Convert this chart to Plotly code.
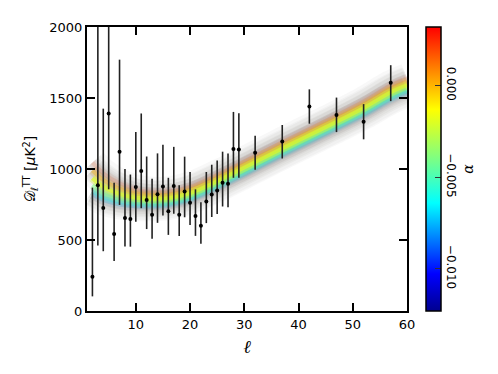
import plotly.graph_objects as go
from plotly.colors import sample_colorscale, unlabel_rgb

# binned TT power spectrum points
ell = [2, 3, 4, 5, 6, 7, 8, 9, 10, 11, 12, 13, 14, 15, 16, 17, 18, 19, 20,
       21, 22, 23, 24, 25, 26, 27, 28, 29, 32, 37, 42, 47, 52, 57]
dl = [241, 885, 726, 1391, 543, 1122, 655, 648, 874, 986, 782, 678, 823, 876,
      703, 880, 678, 841, 763, 669, 600, 772, 821, 848, 903, 897, 1140, 1138,
      1115, 1193, 1441, 1381, 1333, 1607]
dl_hi = [869, 2600, 1425, 2500, 903, 1770, 1000, 961, 1260, 1391, 1088, 931,
         1110, 1171, 938, 1156, 885, 1087, 979, 857, 766, 979, 1030, 1060,
         1122, 1110, 1402, 1393, 1234, 1310, 1561, 1503, 1457, 1731]
dl_lo = [103, 462, 421, 857, 352, 747, 455, 453, 628, 724, 577, 508, 621, 672,
         536, 685, 529, 660, 605, 529, 474, 619, 662, 683, 736, 731, 938, 938,
         995, 1074, 1319, 1260, 1209, 1478]

# model curves for a few values of alpha
ell_model = [2, 4, 7, 10, 13, 16, 20, 25, 30, 37, 45, 52, 57, 60]
alphas = [0.002, 0.0, -0.002, -0.004, -0.006, -0.008]
model = {
    0.002: [1045, 970, 898, 855, 840, 843, 876, 960, 1055, 1190, 1340, 1477, 1590, 1640],
    0.0: [990, 922, 862, 827, 816, 819, 853, 938, 1033, 1168, 1318, 1454, 1566, 1616],
    -0.002: [935, 875, 825, 798, 790, 795, 830, 915, 1010, 1145, 1295, 1430, 1540, 1590],
    -0.004: [885, 833, 793, 772, 767, 774, 810, 895, 990, 1125, 1275, 1409, 1518, 1568],
    -0.006: [845, 800, 767, 752, 749, 757, 794, 879, 974, 1109, 1259, 1392, 1500, 1550],
    -0.008: [820, 780, 750, 739, 738, 746, 784, 869, 964, 1099, 1249, 1382, 1489, 1539],
}
core_opacity = {0.002: 0.12, 0.0: 0.34, -0.002: 0.6, -0.004: 0.42,
                -0.006: 0.26, -0.008: 0.12}
cmin, cmax = -0.0123, 0.0032
cbar_ticks = [0.0, -0.005, -0.010]

jet_cut = [[0.0, '#00008f'], [0.13, '#0000ff'], [0.38, '#00ffff'],
           [0.54, '#80ff80'], [0.71, '#ffff00'], [1.0, '#ff0000']]


def rgba(a, op):
    c = sample_colorscale(jet_cut, [(a - cmin) / (cmax - cmin)])[0]
    r, g, b = unlabel_rgb(c)
    return 'rgba(%d,%d,%d,%.3f)' % (r, g, b, op)


fig = go.Figure()

# soft grey halo round the curves
for a in [0.002, 0.0, -0.006, -0.008]:
    for w, op in [(30, 0.05), (22, 0.06), (15, 0.08), (9, 0.08)]:
        fig.add_trace(go.Scatter(
            x=ell_model, y=model[a], mode='lines',
            line=dict(color='rgba(125,115,110,%.3f)' % op, width=w, shape='spline'),
            showlegend=False, hoverinfo='skip'))

# coloured cores, extremes first, middle last
for a in [0.002, -0.008, 0.0, -0.006, -0.004, -0.002]:
    for w, f in [(8, 0.5), (4, 1.0)]:
        fig.add_trace(go.Scatter(
            x=ell_model, y=model[a], mode='lines',
            line=dict(color=rgba(a, core_opacity[a] * f), width=w, shape='spline'),
            showlegend=False, hoverinfo='skip'))

# data with asymmetric error bars
fig.add_trace(go.Scatter(
    x=ell, y=dl, mode='markers',
    marker=dict(color='black', size=4),
    error_y=dict(type='data', symmetric=False,
                 array=[h - v for h, v in zip(dl_hi, dl)],
                 arrayminus=[v - l for v, l in zip(dl, dl_lo)],
                 color='#222', thickness=1.6, width=0),
    showlegend=False))

# colour bar only
fig.add_trace(go.Scatter(
    x=[30], y=[-500], mode='markers',
    marker=dict(color=[0.0], cmin=cmin, cmax=cmax, colorscale=jet_cut,
                showscale=True, size=1,
                colorbar=dict(thickness=15, len=1, lenmode='fraction',
                              x=1.06, xanchor='left', y=0.5, yanchor='middle',
                              xpad=0, ypad=0,
                              outlinewidth=1.5, outlinecolor='black',
                              ticks='inside', ticklen=6, tickwidth=1.2,
                              tickcolor='#333', tickvals=cbar_ticks,
                              tickformat='.3f', tickangle=90,
                              tickfont=dict(size=12, color='black'),
                              title=dict(text='<i>α</i>', side='right',
                                         font=dict(size=14, family='DejaVu Serif')))),
    showlegend=False, hoverinfo='skip'))

axis_style = dict(showline=True, linewidth=2, linecolor='black', mirror='ticks',
                  ticks='inside', ticklen=8, tickwidth=1.5, tickcolor='black',
                  showgrid=False, zeroline=False,
                  tickfont=dict(size=13, color='black'))

fig.update_xaxes(range=[1, 60], tickvals=[10, 20, 30, 40, 50, 60],
                 title=dict(text='<i>ℓ</i>', font=dict(size=18, family='DejaVu Serif'),
                            standoff=10),
                 **axis_style)
fig.update_yaxes(range=[0, 2000], tickvals=[0, 500, 1000, 1500, 2000],
                 title=dict(text='𝒟<sub>ℓ</sub><sup>TT</sup> [<i>μ</i>K<sup>2</sup>]',
                            font=dict(size=14), standoff=10),
                 **axis_style)

# the page puts the figure 8px in from the top left corner
fig.update_layout(
    width=482, height=358,
    margin=dict(l=79, r=83, t=13, b=55),
    plot_bgcolor='white', paper_bgcolor='white',
    font=dict(family='DejaVu Sans', color='black'),
)

fig.write_html("out.html")
